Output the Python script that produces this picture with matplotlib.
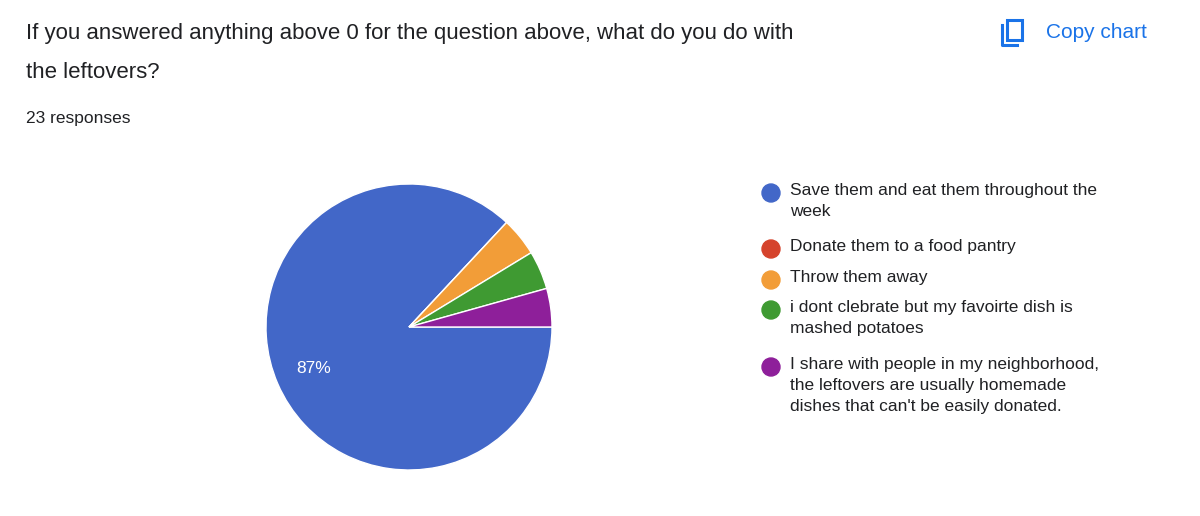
import matplotlib
matplotlib.use("Agg")
import matplotlib.pyplot as plt
from matplotlib.patches import Rectangle, Ellipse

labels = ["Save them and eat them throughout the\nweek", "Donate them to a food pantry",
          "Throw them away", "i dont clebrate but my favoirte dish is\nmashed potatoes",
          "I share with people in my neighborhood,\nthe leftovers are usually homemade\ndishes that can't be easily donated."]
counts = [20, 0, 1, 1, 1]
colors = ["#4267c8", "#d5432c", "#f29d38", "#3f9a32", "#8e1f9a"]

plt.rcParams['font.family'] = ['Liberation Sans', 'DejaVu Sans']
fig = plt.figure(figsize=(12, 5.16), dpi=100)
W, H = 1200, 516

fig.text(26/W, 1-34/H, "If you answered anything above 0 for the question above, what do you do with",
         fontsize=16, color="#202124", va="center")
fig.text(26/W, 1-73/H, "the leftovers?", fontsize=16, color="#202124", va="center")
fig.text(26/W, 1-118/H, "23 responses", fontsize=12.5, color="#202124", va="center")
fig.text(1046/W, 1-32/H, "Copy chart", fontsize=15, color="#1a73e8", va="center")
ax_i = fig.add_axes([995/W, 1-50/H, 36/W, 36/H]); ax_i.set_xlim(0, 36); ax_i.set_ylim(36, 0); ax_i.axis('off')
ax_i.add_patch(Rectangle((12, 6), 15, 20, fill=False, ec="#1a73e8", lw=2.2))
ax_i.plot([7, 7, 22], [11, 31, 31], color="#1a73e8", lw=2.2)

r = 143
ax = fig.add_axes([(409-r)/W, 1-(327+r)/H, 2*r/W, 2*r/H])
ax.pie(counts, colors=colors, startangle=0, counterclock=False,
       wedgeprops=dict(edgecolor="white", linewidth=1))
ax.set_xlim(-1, 1); ax.set_ylim(-1, 1)
ax.set_aspect('equal')
ax.text(-0.67, -0.29, f"{counts[0]/sum(counts)*100:.0f}%", color="white", fontsize=12.5,
        ha="center", va="center")

ys = [193, 249, 280, 310, 367]
for lab, c, y in zip(labels, colors, ys):
    fig.add_artist(Ellipse((771/W, 1-y/H), 18/W, 18/H, transform=fig.transFigure, color=c))
    fig.text(790/W, 1-(y-10)/H, lab, fontsize=12.5, color="#202124", va="top", linespacing=1.5)

fig.savefig("out.png", dpi=100, facecolor="white")
